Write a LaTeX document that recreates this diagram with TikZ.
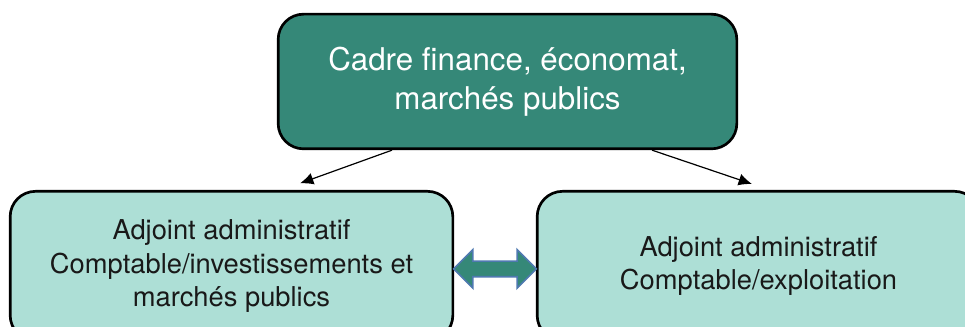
\documentclass[tikz,border=0pt]{standalone}
\usepackage{fontspec}
\setmainfont{TeX Gyre Heros}
\usetikzlibrary{shapes.arrows,arrows.meta}
\definecolor{chefteal}{HTML}{358878}
\definecolor{adjteal}{HTML}{ADDFD6}
\definecolor{dblblue}{HTML}{4F79B0}
\begin{document}
\begin{tikzpicture}[x=0.75pt,y=-0.75pt,
  chefbox/.style={draw=black,line width=2pt,rounded corners=19pt,fill=chefteal,text=white,
    minimum width=344pt,minimum height=101pt,align=center,
    font=\fontsize{23.5}{29}\selectfont},
  adjbox/.style={draw=black,line width=2pt,rounded corners=19pt,fill=adjteal,text=black!90,
    minimum width=332pt,minimum height=112pt,align=center,
    font=\fontsize{20.5}{25}\selectfont},
  fleche/.style={line width=0.9pt,-{Latex[length=10pt,width=9pt]}},
  dblarrow/.style={double arrow,draw=dblblue,line width=1.2pt,fill=chefteal,inner sep=5.25pt,
    minimum height=62pt,minimum width=28.5pt,double arrow head extend=8.6pt}]
  \useasboundingbox (0,0) rectangle (965,327);

  \node[chefbox] (chef) at (507.5,81.5) {Cadre finance, économat,\\marchés publics};
  \node[adjbox] (adjinv) at (231.5,266) {Adjoint administratif\\Comptable/investissements et\\marchés publics};
  \node[adjbox] (adjexp) at (758.5,266) {Adjoint administratif\\Comptable/exploitation};

  \draw[fleche] ([xshift=-86.6pt]chef.south) -- ([xshift=51.4pt,yshift=5pt]adjinv.north);
  \draw[fleche] ([xshift=108.4pt]chef.south) -- ([xshift=-4.9pt,yshift=4.5pt]adjexp.north);

  \path (adjinv.east) -- (adjexp.west) node[midway,yshift=-2.2pt,dblarrow] (lien) {};

\end{tikzpicture}
\end{document}
